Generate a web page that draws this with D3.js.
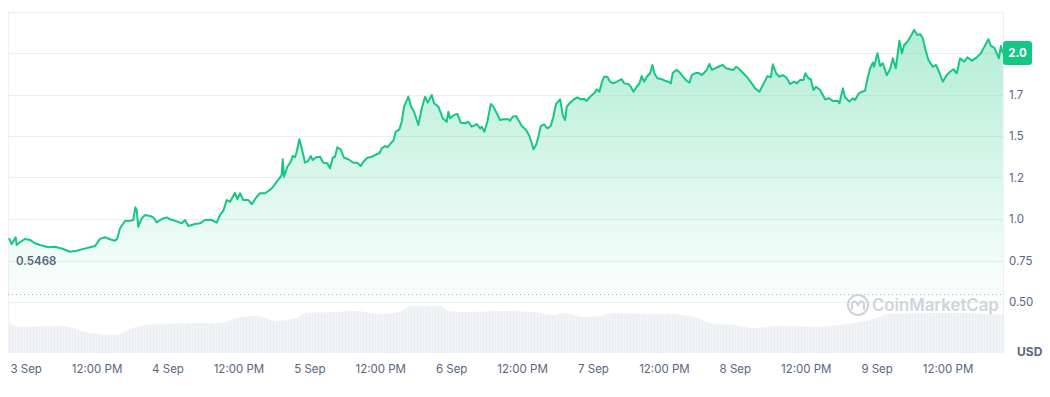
<!DOCTYPE html>
<html>
<head>
<meta charset="utf-8">
<script src="https://cdn.jsdelivr.net/npm/d3@7"></script>
<style>
  body { margin: 0; background: #fff; }
  svg { display: block; font-family: Inter, "Noto Sans", sans-serif; }
</style>
</head>
<body>
<div id="chart"></div>
<script>
// DATA
// hours since 3 Sep 00:00, and the price at that time (USD)
var priceHours = [-2.91,-2.45,-2.06,-1.78,-1.61,-1.17,-0.20,0.64,1.49,2.34,3.74,4.87,6.28,7.41,8.55,9.39,10.51,11.64,12.49,13.34,
  14.18,15.03,15.42,15.88,16.72,17.57,18.13,18.47,18.70,18.97,19.55,20.11,20.95,21.51,22.09,22.93,23.78,24.34,25.18,26.32,
  26.88,27.44,28.57,29.42,30.26,31.40,32.24,32.80,33.36,33.93,34.49,35.34,35.73,36.19,36.74,37.59,38.17,39.01,39.57,40.42,
  41.26,41.82,42.40,42.84,43.24,43.41,43.63,44.19,44.77,45.11,45.49,45.78,46.22,46.63,47.19,47.75,48.15,48.49,49.05,49.73,
  50.28,50.96,51.42,51.88,52.26,52.65,53.23,53.79,54.52,55.36,56.04,56.61,57.05,57.73,58.48,59.32,59.76,60.17,60.73,61.12,
  61.69,62.13,62.54,63.15,63.55,63.94,64.67,65.13,65.63,66.36,66.94,67.50,67.95,68.63,69.02,69.75,70.49,71.17,71.44,71.73,
  72.41,72.96,73.54,74.27,74.83,75.40,76.25,76.81,77.09,77.53,78.04,78.62,79.06,79.63,80.19,80.75,81.60,81.88,82.34,82.90,
  83.29,83.86,84.59,85.15,85.56,85.83,86.28,86.67,87.08,87.64,88.20,88.77,89.21,89.67,90.35,90.80,91.19,91.48,92.04,92.72,
  93.27,93.85,94.41,94.86,95.42,96.10,96.56,97.00,97.40,97.79,98.35,98.81,99.37,99.94,100.79,101.18,101.91,102.31,102.75,103.33,
  103.77,104.17,104.56,105.02,105.58,105.97,106.31,106.82,107.56,108.12,108.68,109.08,109.42,110.10,110.66,111.21,111.79,112.23,112.64,113.19,
  113.75,114.33,114.72,115.17,115.61,116.02,116.58,117.14,117.88,118.44,119.12,119.68,120.13,120.52,121.10,121.94,122.79,123.35,124.08,124.76,
  125.43,126.01,126.35,126.90,127.46,128.04,128.60,129.27,129.95,130.41,130.97,131.53,131.86,132.37,132.78,133.22,133.67,134.35,135.20,135.92,
  136.50,137.28,137.62,138.19,138.58,139.31,139.88,140.27,140.83,141.41,141.97,142.25,142.81,143.27,143.49,144.05,144.51,144.96,145.64,146.20,
  146.65,147.16,147.77,148.18,148.57,149.13,149.70,150.26,150.82,151.28,151.73,152.12,152.68,153.42,153.98,154.54,155.12,155.79,156.35,156.91,
  157.49,158.04,158.72,159.28,160.03,160.87,161.55,161.99,162.84,163.24,163.80,164.26,164.60,164.94,165.27];
var prices = [0.884,0.849,0.874,0.890,0.843,0.857,0.880,0.874,0.854,0.843,0.830,0.833,0.819,0.803,0.809,0.817,0.827,0.837,0.880,0.890,
  0.878,0.869,0.884,0.944,0.988,0.990,0.994,1.070,1.054,0.954,1.004,1.024,1.018,1.010,0.980,1.000,1.010,0.998,0.990,0.974,
  0.994,0.958,0.970,0.974,0.994,0.994,0.978,1.024,1.050,1.114,1.104,1.158,1.119,1.155,1.114,1.114,1.089,1.134,1.155,1.155,
  1.175,1.195,1.225,1.245,1.265,1.360,1.255,1.315,1.345,1.380,1.372,1.405,1.480,1.426,1.339,1.351,1.380,1.355,1.372,1.375,
  1.339,1.336,1.305,1.369,1.375,1.432,1.420,1.369,1.360,1.339,1.339,1.319,1.345,1.369,1.375,1.390,1.396,1.426,1.440,1.432,
  1.456,1.472,1.526,1.540,1.586,1.677,1.737,1.677,1.646,1.566,1.667,1.737,1.701,1.747,1.697,1.677,1.607,1.586,1.646,1.607,
  1.627,1.633,1.580,1.577,1.586,1.556,1.572,1.546,1.556,1.526,1.586,1.693,1.677,1.637,1.596,1.601,1.601,1.592,1.616,1.620,
  1.596,1.560,1.536,1.500,1.456,1.420,1.446,1.496,1.560,1.570,1.546,1.560,1.616,1.693,1.721,1.627,1.596,1.677,1.701,1.721,
  1.733,1.721,1.725,1.711,1.737,1.757,1.781,1.767,1.821,1.857,1.857,1.827,1.817,1.827,1.842,1.817,1.813,1.797,1.767,1.797,
  1.817,1.861,1.827,1.857,1.878,1.928,1.878,1.848,1.842,1.833,1.827,1.817,1.881,1.898,1.881,1.854,1.833,1.821,1.867,1.878,
  1.881,1.867,1.881,1.898,1.934,1.898,1.908,1.917,1.928,1.908,1.902,1.898,1.917,1.908,1.887,1.857,1.817,1.787,1.767,1.813,
  1.861,1.854,1.932,1.878,1.857,1.867,1.854,1.813,1.827,1.817,1.837,1.837,1.878,1.848,1.842,1.777,1.797,1.777,1.721,1.727,
  1.711,1.713,1.697,1.787,1.733,1.707,1.727,1.717,1.753,1.767,1.773,1.827,1.908,1.942,1.917,1.998,1.922,1.938,1.867,1.902,
  1.968,1.908,2.074,1.998,2.048,2.068,2.102,2.139,2.108,2.114,2.089,2.028,1.958,1.917,1.928,1.881,1.827,1.867,1.887,1.902,
  1.878,1.968,1.948,1.974,1.954,1.974,1.998,2.028,2.083,2.042,2.034,1.998,1.968,2.042,1.998];

// volume (relative units) at hours since 3 Sep 00:00
var volumeHours = [-3.08,-1.05,5.72,10.80,15.03,17.57,20.11,29.42,32.80,36.19,39.01,42.40,45.78,47.47,51.98,55.94,59.88,63.27,64.96,70.04,
  71.44,74.55,80.19,85.83,89.21,90.90,94.29,97.11,99.37,105.58,108.96,113.48,115.73,119.68,123.06,127.58,133.79,138.87,143.95,145.64,
  153.53,159.18,165.3];
var volumes = [31,26,27,20,18,24,28,30,30,36,37,32,35,40,41,42,39,41,47,47,
  42,41,42,41,38,40,36,37,40,39,39,35,30,28,25,27,26,29,35,39,
  40,40,38];

// y axis ticks and their labels as shown
var yTicks = [0.5, 0.75, 1.0, 1.25, 1.5, 1.75, 2.0];
var yLabels = ["0.50", "0.75", "1.0", "1.2", "1.5", "1.7", "2.0"];
var gridTicks = [0.5, 0.75, 1.0, 1.25, 1.5, 1.75, 2.0, 2.25];
var lastPriceLabel = "2.0";
var refPrice = 0.5468;
var refLabel = "0.5468";

// set the dimensions
var width = 1050, height = 397;
var plot = {left: 8, right: 1003, top: 11.5, bottom: 353};

var baseTime = new Date(2023, 8, 3, 0, 0).getTime();
function toDate(h) { return new Date(baseTime + h * 3600 * 1000); }

var priceData = priceHours.map(function(h, i) { return {date: toDate(h), price: prices[i]}; });
var volumeData = volumeHours.map(function(h, i) { return {date: toDate(h), volume: volumes[i]}; });

// set the ranges
var x = d3.scaleTime()
  .domain([toDate(-3.08), toDate(165.3)])
  .range([plot.left, plot.right]);
var y = d3.scaleLinear()
  .domain([0.5, 2.25])
  .range([302, plot.top]);
var yVol = d3.scaleLinear()
  .domain([0, 60])
  .range([plot.bottom, plot.bottom - 60]);

var svg = d3.select("#chart").append("svg")
  .attr("width", width)
  .attr("height", height);

// gradient for the price area
var defs = svg.append("defs");
var grad = defs.append("linearGradient")
  .attr("id", "priceFill")
  .attr("gradientUnits", "userSpaceOnUse")
  .attr("x1", 0).attr("x2", 0)
  .attr("y1", y(2.1)).attr("y2", y(refPrice));
grad.append("stop").attr("offset", 0).attr("stop-color", "#16c784").attr("stop-opacity", 0.32);
grad.append("stop").attr("offset", 1).attr("stop-color", "#16c784").attr("stop-opacity", 0.02);

// grid lines
svg.append("g")
  .selectAll("line")
  .data(gridTicks)
  .enter()
  .append("line")
  .attr("x1", plot.left)
  .attr("x2", plot.right)
  .attr("y1", function(d) { return Math.round(y(d)) + 0.5; })
  .attr("y2", function(d) { return Math.round(y(d)) + 0.5; })
  .attr("stroke", "#eceff3")
  .attr("stroke-width", 1);

// side borders
svg.append("line")
  .attr("x1", plot.left + 0.5).attr("x2", plot.left + 0.5)
  .attr("y1", plot.top).attr("y2", plot.bottom)
  .attr("stroke", "#eceff3");
svg.append("line")
  .attr("x1", plot.right + 0.5).attr("x2", plot.right + 0.5)
  .attr("y1", plot.top).attr("y2", plot.bottom)
  .attr("stroke", "#eceff3");

// volume area (thin bars look)
var volArea = d3.area()
  .x(function(d) { return x(d.date); })
  .y0(yVol(0))
  .y1(function(d) { return yVol(d.volume); })
  .curve(d3.curveMonotoneX);

var pattern = defs.append("pattern")
  .attr("id", "volStripes")
  .attr("patternUnits", "userSpaceOnUse")
  .attr("width", 3).attr("height", 10);
pattern.append("rect").attr("width", 3).attr("height", 10).attr("fill", "#f1f3f6");
pattern.append("rect").attr("width", 1).attr("height", 10).attr("fill", "#eaedf1");

svg.append("path")
  .datum(volumeData)
  .attr("d", volArea)
  .attr("fill", "url(#volStripes)");

// price area and line
var priceArea = d3.area()
  .x(function(d) { return x(d.date); })
  .y0(y(refPrice))
  .y1(function(d) { return y(d.price); });

var priceLine = d3.line()
  .x(function(d) { return x(d.date); })
  .y(function(d) { return y(d.price); });

svg.append("path")
  .datum(priceData)
  .attr("d", priceArea)
  .attr("fill", "url(#priceFill)");

// reference (dotted) line
svg.append("line")
  .attr("x1", plot.left)
  .attr("x2", plot.right)
  .attr("y1", Math.round(y(refPrice)) + 0.5)
  .attr("y2", Math.round(y(refPrice)) + 0.5)
  .attr("stroke", "#a6b0c3")
  .attr("stroke-width", 1)
  .attr("stroke-dasharray", "1,3");

svg.append("path")
  .datum(priceData)
  .attr("d", priceLine)
  .attr("fill", "none")
  .attr("stroke", "#16c784")
  .attr("stroke-width", 2)
  .attr("stroke-linejoin", "round");

// reference label
svg.append("text")
  .attr("x", 16)
  .attr("y", y(refPrice) - 29)
  .attr("fill", "#58667e")
  .style("font-size", "11.5px")
  .style("font-weight", 600)
  .text(refLabel);

// watermark
var wm = svg.append("g").attr("transform", "translate(858,305)");
wm.append("circle")
  .attr("r", 10)
  .attr("fill", "none")
  .attr("stroke", "#cdd2da")
  .attr("stroke-width", 2);
wm.append("path")
  .attr("d", "M-6,4 L-6,-2 Q-3,-6 0,0 Q3,-6 6,-2 L6,4")
  .attr("fill", "none")
  .attr("stroke", "#cdd2da")
  .attr("stroke-width", 2)
  .attr("stroke-linecap", "round");
svg.append("text")
  .attr("x", 872)
  .attr("y", 311)
  .attr("fill", "#d0d4db")
  .style("font-size", "16.8px")
  .style("font-weight", 600)
  .text("CoinMarketCap");

// y axis labels
svg.append("g")
  .selectAll("text")
  .data(yTicks)
  .enter()
  .append("text")
  .attr("x", 1009)
  .attr("y", function(d) { return y(d) + 4; })
  .attr("fill", "#58667e")
  .style("font-size", "11.5px")
  .text(function(d, i) { return yLabels[i]; });

// last price badge
svg.append("rect")
  .attr("x", plot.right)
  .attr("y", y(2.0) - 12)
  .attr("width", 29)
  .attr("height", 24)
  .attr("rx", 3)
  .attr("fill", "#16c784");
svg.append("text")
  .attr("x", plot.right + 14.5)
  .attr("y", y(2.0) + 4)
  .attr("text-anchor", "middle")
  .attr("fill", "#ffffff")
  .style("font-size", "11.5px")
  .style("font-weight", 700)
  .text(lastPriceLabel);

// currency label
svg.append("text")
  .attr("x", 1017)
  .attr("y", 356)
  .attr("fill", "#58667e")
  .style("font-size", "12px")
  .style("font-weight", 700)
  .text("USD");

// x axis labels
var fmtDay = d3.timeFormat("%-d %b");
var xTicks = x.ticks(d3.timeHour.every(12));
svg.append("g")
  .selectAll("text")
  .data(xTicks)
  .enter()
  .append("text")
  .attr("x", function(d) { return x(d); })
  .attr("y", 373)
  .attr("text-anchor", "middle")
  .attr("fill", "#58667e")
  .style("font-size", "11.5px")
  .text(function(d) { return d.getHours() === 12 ? "12:00 PM" : fmtDay(d); });
</script>
</body>
</html>
